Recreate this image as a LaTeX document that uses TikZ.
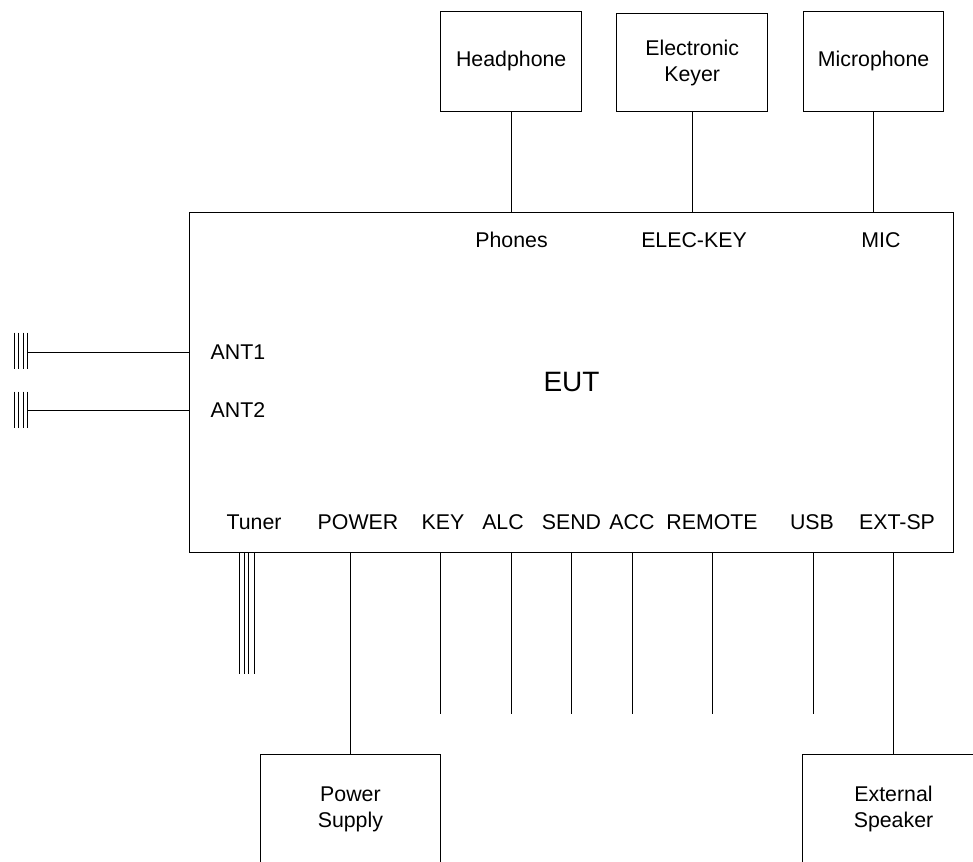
\documentclass[tikz,border=0pt]{standalone}
\usepackage{fontspec}
\setmainfont{Liberation Sans}
\begin{document}
\begin{tikzpicture}[x=0.75pt,y=-0.75pt,line width=0.7pt,
  box/.style={draw,line width=0.7pt,inner sep=0pt},
  lbl/.style={inner sep=0pt,align=center,font=\fontsize{16}{19.5}\selectfont},
  big/.style={inner sep=0pt,font=\fontsize{21}{25}\selectfont},
  wire/.style={line width=0.7pt}]
\useasboundingbox (0,0) rectangle (973,861);
\clip (0,0) rectangle (973,861);
% peripheral boxes
\node[box,minimum width=105.75pt,minimum height=75pt] (hp) at (511.2,61) {};
\node[lbl] (hptxt) at (511.2,61) {Headphone};
\node[box,minimum width=113.25pt,minimum height=73.5pt] (ek) at (692.2,62) {};
\node[lbl] (ektxt) at (692.2,63) {Electronic\\Keyer};
\node[box,minimum width=105.5pt,minimum height=75pt] (mic) at (873.6,61) {};
\node[lbl] (mictxt) at (873.6,61) {Microphone};
% EUT
\node[box,minimum width=573pt,minimum height=255pt] (eut) at (571,382.3) {};
\node[big] (euttxt) at (571.5,382) {EUT};
% top port labels
\node[lbl] (phones) at (511.5,240) {Phones};
\node[lbl] (eleckey) at (694,240) {ELEC-KEY};
\node[lbl] (miclbl) at (881,240) {MIC};
% left labels
\node[lbl] (ant1) at (238,352) {ANT1};
\node[lbl] (ant2) at (238,410) {ANT2};
% bottom labels
\node[lbl] (tuner) at (254,522) {Tuner};
\node[lbl] (power) at (358,522) {POWER};
\node[lbl] (key) at (443,522) {KEY};
\node[lbl] (alc) at (503,522) {ALC};
\node[lbl] (send) at (571.5,522) {SEND};
\node[lbl] (acc) at (632,522) {ACC};
\node[lbl] (remote) at (712,522) {REMOTE};
\node[lbl] (usb) at (812,522) {USB};
\node[lbl] (extsp) at (897,522) {EXT-SP};
% bottom boxes (cut by the page edge)
\node[box,minimum width=135.5pt,minimum height=110pt,anchor=north] (ps) at (350.4,754) {};
\node[lbl] (pstxt) at (350.4,809) {Power\\Supply};
\node[box,minimum width=137pt,minimum height=110pt,anchor=north] (es) at (893.5,754) {};
\node[lbl] (estxt) at (893.5,809) {External\\Speaker};
% top connectors
\draw[wire] (hp.south) -- (hp.south |- eut.north);
\draw[wire] (ek.south) -- (ek.south |- eut.north);
\draw[wire] (mic.south) -- (mic.south |- eut.north);
% antennas
\coordinate (a1) at (27.3,352);
\coordinate (a2) at (27.3,410);
\draw[wire] (a1) -- (a1 -| eut.west);
\draw[wire] (a2) -- (a2 -| eut.west);
\foreach \xx in {14,18.5,23,27.3}{
  \draw[wire] (\xx,332.7) -- (\xx,369);
  \draw[wire] (\xx,391.7) -- (\xx,428.3);
}
% tuner
\foreach \xx in {239.3,244,248.7,254}{
  \coordinate (t) at (\xx,674);
  \draw[wire] (t |- eut.south) -- (t);
}
% power and speaker
\draw[wire] (ps.north) -- (ps.north |- eut.south);
\draw[wire] (es.north) -- (es.north |- eut.south);
% open port lines
\foreach \xx/\nm in {440.7/ckey,511/calc,571.7/csend,632/cacc,712.6/cremote,813/cusb}{
  \coordinate (\nm) at (\xx,714);
  \draw[wire] (\nm |- eut.south) -- (\nm);
}
\end{tikzpicture}
\end{document}
